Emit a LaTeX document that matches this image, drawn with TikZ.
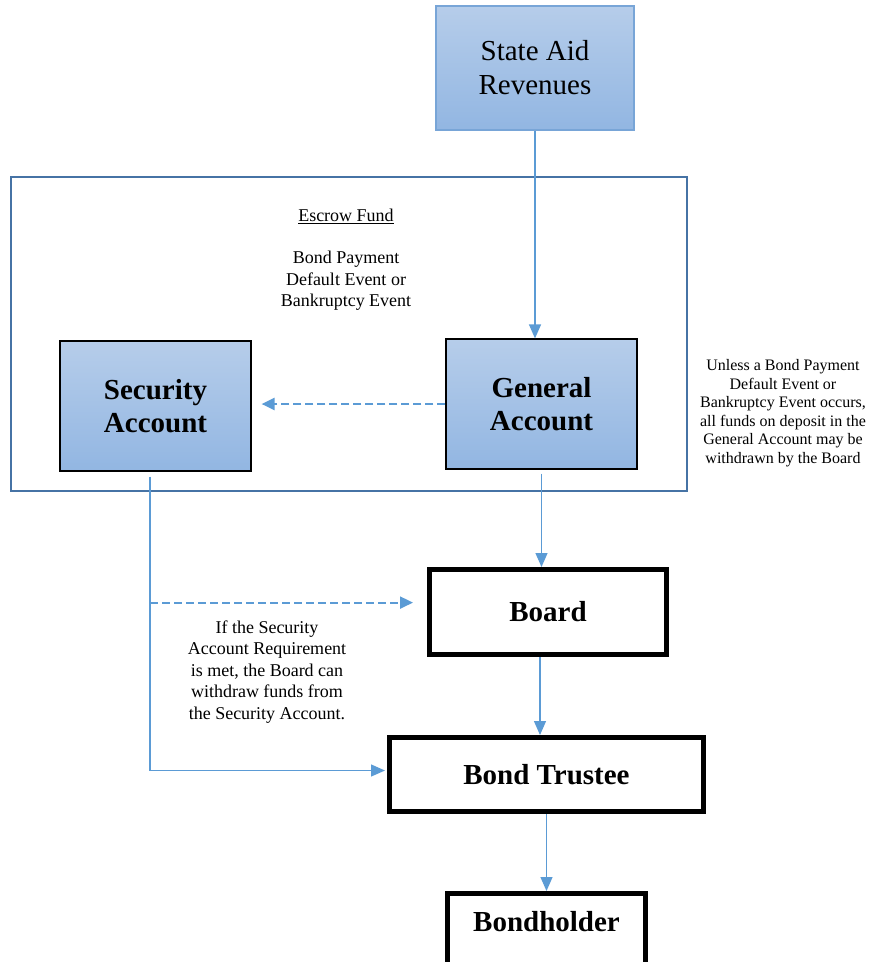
\documentclass[tikz,border=0pt]{standalone}
\usepackage{fontspec}
\setmainfont{Liberation Serif}
\usepackage{tikz}
\usetikzlibrary{arrows.meta,calc}
\definecolor{boxtop}{RGB}{182,205,234}
\definecolor{boxbot}{RGB}{146,182,226}
\definecolor{revline}{RGB}{120,165,215}
\definecolor{flowblue}{RGB}{91,155,213}
\definecolor{fundblue}{RGB}{70,115,165}

\begin{document}
\begin{tikzpicture}[x=1pt, y=-1pt,
    acct/.style={draw=black, line width=1.2pt, top color=boxtop, bottom color=boxbot,
      minimum width=191pt, minimum height=130pt, inner sep=0pt, align=center,
      font=\fontsize{29}{33}\selectfont\bfseries},
    party/.style={draw=black, line width=5pt, fill=white, inner sep=0pt, align=center,
      font=\fontsize{29}{33}\selectfont\bfseries},
    note/.style={align=center, inner sep=0pt},
    conn/.style={flowblue, line width=1.3pt, -{Triangle[length=14pt,width=12pt]}},
    dconn/.style={flowblue, line width=2.2pt, dash pattern=on 8pt off 4pt,
      -{Triangle[length=13pt,width=12pt]}}]
    \useasboundingbox (0,0) rectangle (872,962);
    % escrow fund frame
    \draw[fundblue, line width=2.5pt] (11,177) rectangle (687,491);
    \node[draw=revline, line width=1.2pt, top color=boxtop, bottom color=boxbot,
      minimum width=198pt, minimum height=124pt, inner sep=0pt, align=center,
      font=\fontsize{29}{34}\selectfont] (revenue) at (535,68) {State Aid\\Revenues};
    \node[acct] (security) at (155.5,406) {Security\\Account};
    \node[acct] (general) at (541.5,404) {General\\Account};
    \node[party, minimum width=237pt, minimum height=85pt] (board) at (548,612) {Board};
    \node[party, minimum width=314pt, minimum height=74pt] (trustee) at (546.5,774.5) {Bond Trustee};
    \node[party, minimum width=198pt, minimum height=82pt, text depth=26pt] (bondholder) at (546.5,934.5) {Bondholder};
    % labels
    \node[note, font=\fontsize{18}{21.5}\selectfont] (escrow) at (346,216) {\underline{Escrow Fund}};
    \node[note, font=\fontsize{18}{21.5}\selectfont] (trigger) at (346,281)
      {Bond Payment\\Default Event or\\Bankruptcy Event};
    \node[note, font=\fontsize{16}{18.5}\selectfont] (unless) at (783,413)
      {Unless a Bond Payment\\Default Event or\\Bankruptcy Event occurs,\\all funds on deposit in the\\General Account may be\\withdrawn by the Board};
    \node[note, font=\fontsize{18}{21.5}\selectfont] (require) at (267,672)
      {If the Security\\Account Requirement\\is met, the Board can\\withdraw funds from\\the Security Account.};
    % flows
    \draw[conn] (revenue.south) -- (revenue.south |- general.north);
    \draw[dconn, shorten >=10pt] (general.west) -- (general.west -| security.east);
    \draw[conn] ([yshift=-4pt]general.south) -- (general.south |- board.north);
    \draw[conn] ([xshift=-8pt]board.south) -- ([xshift=-8pt]board.south |- trustee.north);
    \draw[conn] (trustee.south) -- (bondholder.north);
    \coordinate (tap) at ([xshift=-5.5pt, yshift=-131pt]security.south);
    \draw[conn, shorten >=2pt] ([xshift=-5.5pt, yshift=-5pt]security.south) |- ([yshift=4pt]trustee.west);
    \draw[dconn, shorten >=14pt] (tap) -- (tap -| board.west);
\end{tikzpicture}
\end{document}
